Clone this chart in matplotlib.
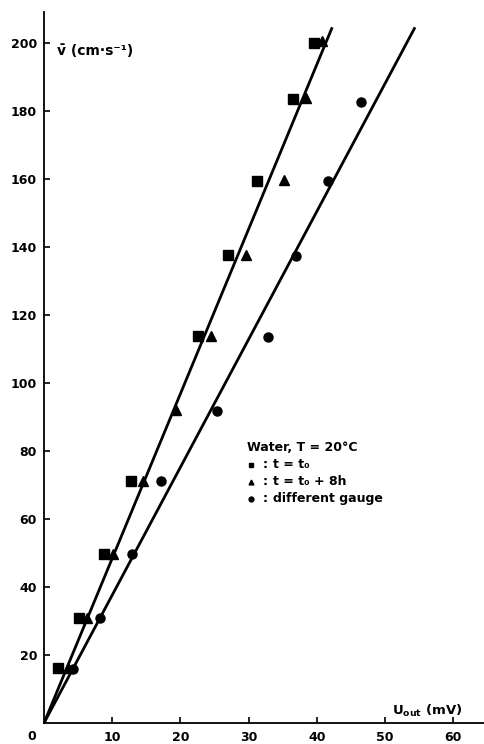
import numpy as np
import matplotlib
matplotlib.use("Agg")
import matplotlib.pyplot as plt

plt.rcParams["font.family"] = ["DejaVu Sans"]
plt.rcParams["font.weight"] = "bold"

# ---------------------------------------------------------------
# data (U_out in mV, mean velocity in cm/s)
# ---------------------------------------------------------------
sq_x = [2.1, 5.2, 8.8, 12.8, 22.6, 27.0, 31.2, 36.5, 39.6]
sq_y = [16.2, 30.9, 49.7, 71.2, 113.8, 137.6, 159.2, 183.4, 200.0]

tri_x = [3.5, 6.3, 10.1, 14.5, 19.4, 24.5, 29.6, 35.2, 38.4, 40.8]
tri_y = [16.2, 30.9, 49.7, 71.2, 92.0, 113.8, 137.6, 159.5, 183.8, 200.5]

circ_x = [4.2, 8.2, 12.9, 17.2, 25.4, 32.8, 37.0, 41.6, 46.5]
circ_y = [16.0, 30.9, 49.7, 71.2, 91.7, 113.5, 137.4, 159.2, 182.6]

# two straight calibration lines through the origin
fit_slopes = [4.84, 3.76]
fit_top = 204.5

x_ticks = [10, 20, 30, 40, 50, 60]
y_ticks = [20, 40, 60, 80, 100, 120, 140, 160, 180, 200]

# ---------------------------------------------------------------
fig = plt.figure(figsize=(4.84, 7.44), dpi=100)
ax = fig.add_axes([44 / 484, 21 / 744, 440 / 484, 711 / 744])

for k in fit_slopes:
    ax.plot([0, fit_top / k], [0, fit_top], color="black", lw=2.0, solid_capstyle="butt")

ax.plot(sq_x, sq_y, "s", color="black", ms=6.5, ls="none")
ax.plot(tri_x, tri_y, "^", color="black", ms=6.5, ls="none")
ax.plot(circ_x, circ_y, "o", color="black", ms=6.5, ls="none")

ax.set_xlim(0, 64.5)
ax.set_ylim(0, 209)
ax.spines["top"].set_visible(False)
ax.spines["right"].set_visible(False)
for s in ("left", "bottom"):
    ax.spines[s].set_linewidth(1.3)

ax.set_xticks(x_ticks)
ax.set_yticks(y_ticks)
ax.tick_params(direction="in", length=4, width=1.2, labelsize=9)
ax.tick_params(axis="x", pad=6)
ax.tick_params(axis="y", pad=5)
for lab in ax.get_xticklabels() + ax.get_yticklabels():
    lab.set_fontweight("bold")

# origin label sits left of the corner
ax.text(-1.8, -3.9, "0", ha="center", va="center", fontsize=9, fontweight="bold", clip_on=False)

# axis titles
ax.text(1.9, 197.5, "v\u0304 (cm\u00b7s\u207b\u00b9)", ha="left", va="center", fontsize=10, fontweight="bold")
ax.text(51.0, 1.2, r"U$_{\mathbf{out}}$ (mV)", ha="left", va="bottom", fontsize=9.5, fontweight="bold")

# key
ax.text(29.8, 81.0, "Water, T = 20\u00b0C", ha="left", va="center", fontsize=9, fontweight="bold")
key_y = [75.9, 70.9, 65.9]
key_m = ["s", "^", "o"]
key_t = ["t = t\u2080", "t = t\u2080 + 8h", "different gauge"]
for yy, m, t in zip(key_y, key_m, key_t):
    ax.plot([30.4], [yy], m, color="black", ms=3.5)
    ax.text(32.0, yy, ":", ha="left", va="center", fontsize=9, fontweight="bold")
    ax.text(33.6, yy, t, ha="left", va="center", fontsize=9, fontweight="bold")

plt.savefig("out.png", dpi=100)
